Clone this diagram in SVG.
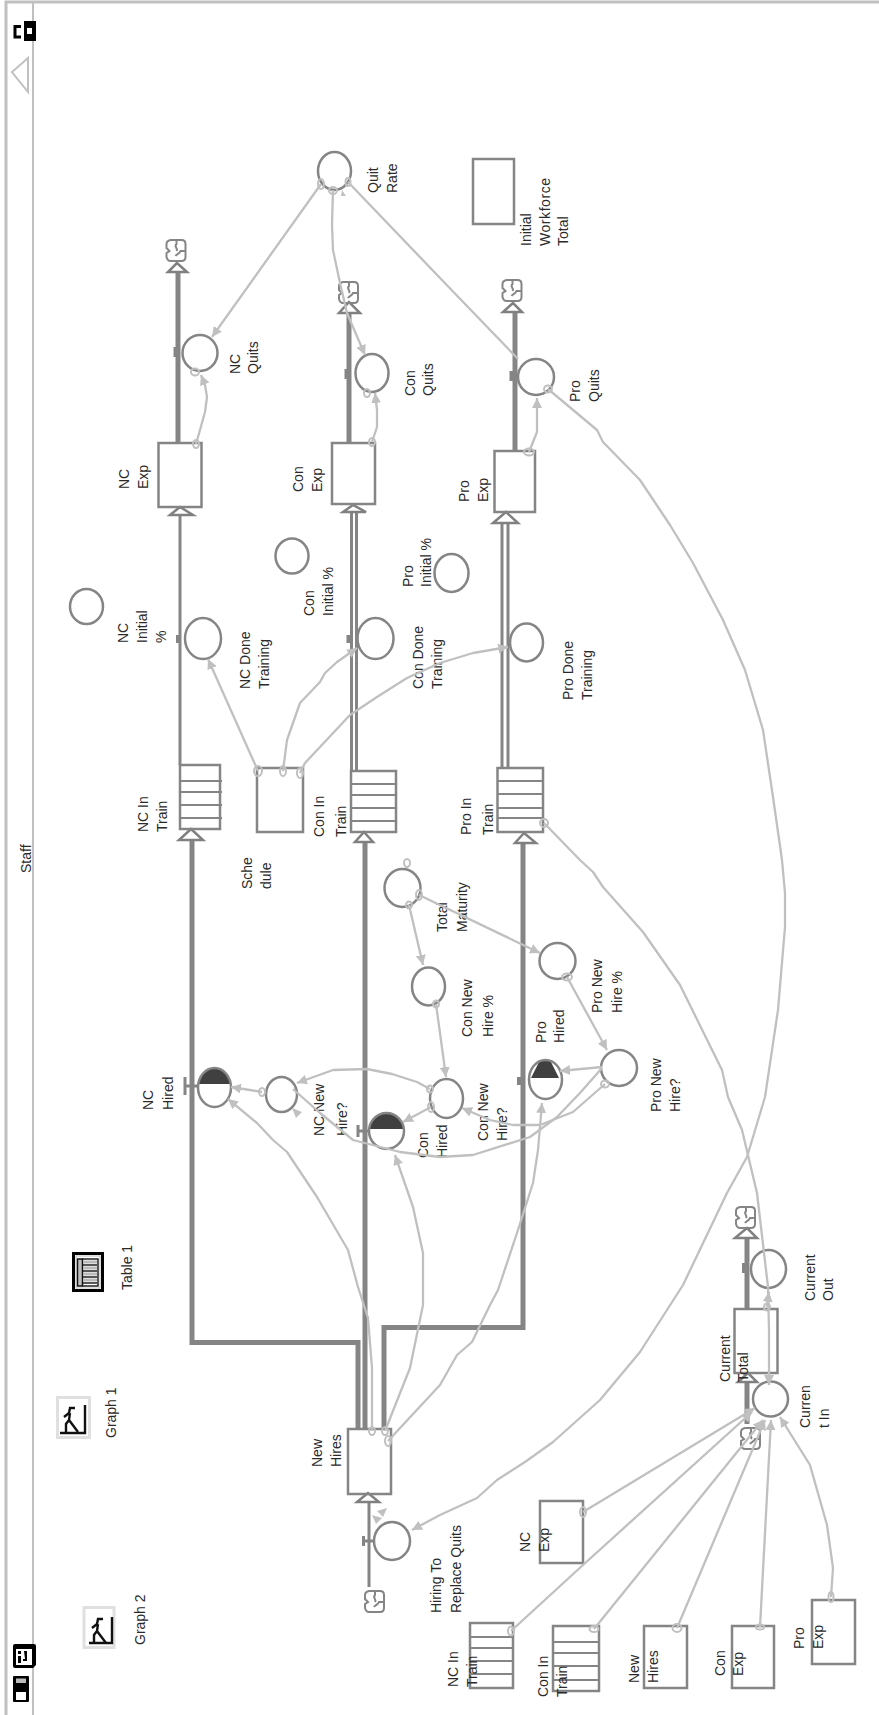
<svg xmlns="http://www.w3.org/2000/svg" xmlns:xlink="http://www.w3.org/1999/xlink" width="879" height="1715" viewBox="0 0 879 1715">
<style>
.b{fill:none;stroke:#858585;stroke-width:2.5}
.f{fill:#404040;stroke:none}
.t{fill:#858585;stroke:none}
.i{fill:none;stroke:#858585;stroke-width:2}
.p{fill:none;stroke:#858585;stroke-width:5}
.p3{fill:none;stroke:#858585;stroke-width:3}
.h{fill:#fff;stroke:#808080;stroke-width:2.5;stroke-linejoin:miter}
.c{fill:none;stroke:#c0c0c0;stroke-width:2.3;stroke-linejoin:round;marker-end:url(#a)}
.r{fill:none;stroke:#c0c0c0;stroke-width:2}
.s{fill:#c0c0c0;stroke:none}
.fr{fill:none;stroke:#c0c0c0}
.k{fill:none;stroke:#000;stroke-width:3}
.kf{fill:#000;stroke:none}
.g{fill:none;stroke:#e0e0e0;stroke-width:3}
.gp{fill:none;stroke:#111;stroke-width:2.4}
text{font-family:"Liberation Sans",Arial,sans-serif;font-size:14px;fill:#2a2a2a}
</style>
<defs>
<marker id="a" markerUnits="userSpaceOnUse" markerWidth="11" markerHeight="10" refX="10" refY="5" orient="auto"><path d="M0,0 L10,5 L0,10 Z" fill="#c0c0c0"/></marker>
<path id="cl" d="M5,1 H16 Q20,1 20,5 V18 Q20,22 16,22 H5 Q2,22 1,18 V14 L4,12 L1,9 V5 Q1,2 5,1 Z M11,1 V5 C8,8 13,9 11,12 M20,12 H15 C14,15 11,15 10,17" fill="none" stroke="#858585" stroke-width="2"/>
</defs>

<g id="frame">
<path class="fr" stroke-width="3" d="M6,1715 V2 H879"/>
<path class="fr" stroke-width="2" d="M33,2 V1715"/>
<path class="fr" stroke-width="2" d="M28,58 L12,72 L28,92 Z"/>
<path class="k" d="M21,26.500 H15 V37 H21"/>
<path class="kf" fill-rule="evenodd" d="M24,21 H36 V41 H24 Z M27,28 V34 H32 V28 Z"/>
<path class="kf" fill-rule="evenodd" d="M15,1644 H34 Q36,1644 36,1646 V1665 L33,1668 H15 Q13,1668 13,1666 V1646 Q13,1644 15,1644 Z M16,1649 V1665 H32 V1649 Z"/>
<path class="kf" d="M18,1651 h3 v3 h-3 z M18,1656 h3 v7 h-3 z M24,1651 h3 v10 h-4 v-2 h2 z"/>
<rect class="kf" x="13" y="1676" width="16" height="26" rx="1"/>
<rect x="16" y="1678.500" width="10" height="4.500" fill="#bbb"/>
<rect x="16" y="1692" width="10" height="8" fill="#fff"/>
<text transform="translate(31,873) rotate(-90)">Staff</text>
</g>

<g id="table1">
<rect class="k" x="73.500" y="1253.500" width="29" height="37"/>
<rect x="76" y="1256" width="24" height="32" fill="#fff" stroke="#c0c0c0"/>
<rect x="77.500" y="1259" width="5" height="27" fill="#c0c0c0" stroke="#111" stroke-width="1.500"/>
<path d="M82,1259 H98 V1286 H82" fill="none" stroke="#222" stroke-width="1.500"/>
<path d="M83,1262 H97 M83,1268 H97 M83,1274 H97 M83,1280 H97" fill="none" stroke="#bbb" stroke-width="3"/>
<path d="M83,1265 H97 M83,1271 H97 M83,1277 H97 M83,1283 H97" fill="none" stroke="#222" stroke-width="1.500"/>
<text transform="translate(132,1290) rotate(-90)">Table 1</text>
</g>
<g id="graph1">
<rect class="g" x="57.500" y="1397.500" width="32" height="40"/>
<path class="gp" d="M85,1405 V1433 H60"/>
<path class="gp" d="M75,1408 H70 L69,1413 L64,1417 M70,1413 L69,1420 L66,1424 V1432 M69,1420 L78,1432"/>
<text transform="translate(116,1438) rotate(-90)">Graph 1</text>
</g>
<g id="graph2">
<rect class="g" x="84" y="1607.500" width="30" height="40"/>
<path class="gp" d="M112,1617 V1643 H89"/>
<path class="gp" d="M103,1619 H98 L97,1624 L92,1628 M98,1624 L97,1631 L94,1635 V1643 M97,1631 L106,1643"/>
<text transform="translate(145,1645) rotate(-90)">Graph 2</text>
</g>

<g id="flows">
<path class="p" d="M178,272 V443"/>
<path class="p" d="M349,313 V443"/>
<path class="p" d="M515,312 V451"/>
<path class="p3" d="M180,515 V765"/>
<path class="p3" d="M351.500,512 V771 M356.500,512 V771"/>
<path class="p3" d="M502,523 V768 M508,523 V768"/>
<path class="p" d="M192,840 V1342.500 H358 V1429"/>
<path class="p" d="M365,842 V1429"/>
<path class="p" d="M384,1429 V1327.500 H523 V843"/>
<path class="p3" d="M369,1502 V1587"/>
<path class="p" d="M747,1238 V1309"/>
<path class="p" d="M747,1382 V1424"/>
<path class="h" d="M177,263 L168,272 H187 Z"/>
<path class="h" d="M349,302 L339,313 H360 Z"/>
<path class="h" d="M513,303 L503,312 H522 Z"/>
<path class="h" d="M180,507 L170,515 H193 Z"/>
<path class="h" d="M353,505 L343,512 H366 Z"/>
<path class="h" d="M506,512 L493,523 H518 Z"/>
<path class="h" d="M191,829 L179,840 H203 Z"/>
<path class="h" d="M364,832 L355,842 H373 Z"/>
<path class="h" d="M524,833 L515,843 H536 Z"/>
<path class="h" d="M368,1493 L357,1502 H379 Z"/>
<path class="h" d="M747,1228 L735,1238 H757 Z"/>
<path class="h" d="M748,1373 L738,1382 H757 Z"/>
<use xlink:href="#cl" href="#cl" transform="translate(165.500,239)"/>
<use xlink:href="#cl" href="#cl" transform="translate(338,281)"/>
<use xlink:href="#cl" href="#cl" transform="translate(501.500,279)"/>
<use xlink:href="#cl" href="#cl" transform="translate(735,1206)"/>
<use xlink:href="#cl" href="#cl" transform="translate(740,1427)"/>
<use xlink:href="#cl" href="#cl" transform="translate(364,1590)"/>
</g>

<g id="QuitRate"><ellipse class="b" cx="334.500" cy="171" rx="16.500" ry="19"/><text transform="translate(378,193) rotate(-90)">Quit</text><text transform="translate(397,193) rotate(-90)">Rate</text></g>
<g id="NCQuits"><ellipse class="b" cx="200" cy="353" rx="17.500" ry="18"/><rect class="t" x="173.500" y="347" width="4" height="10"/><text transform="translate(240,374) rotate(-90)">NC</text><text transform="translate(258,374) rotate(-90)">Quits</text></g>
<g id="ConQuits"><ellipse class="b" cx="372" cy="373" rx="16.500" ry="19"/><rect class="t" x="344.500" y="369" width="4" height="10"/><text transform="translate(415,396) rotate(-90)">Con</text><text transform="translate(433,396) rotate(-90)">Quits</text></g>
<g id="ProQuits"><ellipse class="b" cx="536" cy="377" rx="18" ry="18"/><rect class="t" x="509.500" y="371" width="4" height="10"/><text transform="translate(580,402) rotate(-90)">Pro</text><text transform="translate(599,402) rotate(-90)">Quits</text></g>
<g id="InitialWorkforceTotal"><rect class="b" x="473" y="159" width="41" height="65"/><text transform="translate(531,246) rotate(-90)">Initial</text><text transform="translate(550,246) rotate(-90)" textLength="68">Workforce</text><text transform="translate(568,246) rotate(-90)">Total</text></g>

<g id="NCExp"><rect class="b" x="158.500" y="443" width="43" height="64"/><text transform="translate(129,489) rotate(-90)">NC</text><text transform="translate(148,489) rotate(-90)">Exp</text></g>
<g id="ConExp"><rect class="b" x="332" y="443" width="43" height="61"/><text transform="translate(303,492) rotate(-90)">Con</text><text transform="translate(322,492) rotate(-90)">Exp</text></g>
<g id="ProExp"><rect class="b" x="494.500" y="451" width="40.500" height="61"/><text transform="translate(469,502) rotate(-90)">Pro</text><text transform="translate(488,502) rotate(-90)">Exp</text></g>

<g id="NCInitial"><ellipse class="b" cx="86.500" cy="606.500" rx="16.500" ry="17.500"/><text transform="translate(128,643) rotate(-90)">NC</text><text transform="translate(147,643) rotate(-90)">Initial</text><text transform="translate(166,643) rotate(-90)">%</text></g>
<g id="ConInitial"><ellipse class="b" cx="292" cy="556" rx="16.500" ry="17.500"/><text transform="translate(314,616) rotate(-90)">Con</text><text transform="translate(333,616) rotate(-90)">Initial %</text></g>
<g id="ProInitial"><ellipse class="b" cx="451.500" cy="573" rx="17" ry="19"/><text transform="translate(413,587) rotate(-90)">Pro</text><text transform="translate(431,587) rotate(-90)">Initial %</text></g>

<g id="NCDone"><ellipse class="b" cx="203" cy="638.500" rx="18" ry="20.500"/><rect class="t" x="176" y="635" width="4" height="8"/><text transform="translate(250,689) rotate(-90)">NC Done</text><text transform="translate(269,689) rotate(-90)">Training</text></g>
<g id="ConDone"><ellipse class="b" cx="375.500" cy="638.500" rx="18" ry="20.500"/><rect class="t" x="346.500" y="635" width="4" height="8"/><text transform="translate(423,689) rotate(-90)">Con Done</text><text transform="translate(442,689) rotate(-90)">Training</text></g>
<g id="ProDone"><ellipse class="b" cx="526.500" cy="642.500" rx="16.500" ry="19"/><text transform="translate(573,700) rotate(-90)">Pro Done</text><text transform="translate(592,700) rotate(-90)">Training</text></g>

<g id="NCInTrain"><rect class="b" x="180" y="765" width="40" height="64"/><path class="i" d="M180,781 H222 M180,792 H222 M180,805 H222 M180,818 H222"/><text transform="translate(148,832) rotate(-90)">NC In</text><text transform="translate(167,832) rotate(-90)">Train</text></g>
<g id="Schedule"><rect class="b" x="257" y="768" width="46" height="64"/><text transform="translate(252,889) rotate(-90)">Sche</text><text transform="translate(271,889) rotate(-90)">dule</text></g>
<g id="ConInTrain"><rect class="b" x="351" y="771" width="45" height="61"/><path class="i" d="M351,784 H396 M351,795 H396 M351,808 H396 M351,821 H396"/><text transform="translate(324,837) rotate(-90)">Con In</text><text transform="translate(346,837) rotate(-90)">Train</text></g>
<g id="ProInTrain"><rect class="b" x="497.500" y="768" width="45.500" height="64"/><path class="i" d="M497,781 H543 M497,794 H543 M497,808 H543 M497,818 H543"/><text transform="translate(471,835) rotate(-90)">Pro In</text><text transform="translate(493,835) rotate(-90)">Train</text></g>

<g id="TotalMaturity"><ellipse class="b" cx="402.500" cy="888" rx="18" ry="19"/><text transform="translate(447,932) rotate(-90)">Total</text><text transform="translate(467,932) rotate(-90)">Maturity</text></g>
<g id="ConNewHirePct"><ellipse class="b" cx="428.500" cy="986.500" rx="16.500" ry="19"/><text transform="translate(472,1037) rotate(-90)">Con New</text><text transform="translate(493,1037) rotate(-90)">Hire %</text></g>
<g id="ProNewHirePct"><ellipse class="b" cx="557.500" cy="961" rx="18" ry="18"/><text transform="translate(602,1013) rotate(-90)">Pro New</text><text transform="translate(622,1013) rotate(-90)">Hire %</text></g>
<g id="ProNewHire"><ellipse class="b" cx="619" cy="1068" rx="18" ry="18"/><text transform="translate(661,1112) rotate(-90)">Pro New</text><text transform="translate(680,1112) rotate(-90)">Hire?</text></g>
<g id="ConNewHire"><ellipse class="b" cx="446.500" cy="1098.500" rx="16.500" ry="19.500"/><text transform="translate(488,1141) rotate(-90)">Con New</text><text transform="translate(507,1141) rotate(-90)">Hire?</text></g>
<g id="NCNewHire"><ellipse class="b" cx="281.500" cy="1094.500" rx="15.500" ry="17.500"/><text transform="translate(324,1136) rotate(-90)">NC New</text><text transform="translate(347,1136) rotate(-90)">Hire?</text></g>

<g id="NCHired"><path class="f" d="M198.300,1084 A16.500,19.500 0 0 1 230.700,1084 Z"/><ellipse class="b" cx="214.500" cy="1087.500" rx="16.500" ry="19.500"/><path class="p3" d="M185,1086 H198 M185,1077 V1095"/><text transform="translate(153,1110) rotate(-90)">NC</text><text transform="translate(173,1110) rotate(-90)">Hired</text></g>
<g id="ConHired"><path class="f" d="M369.100,1129 A17.500,18 0 0 1 403.900,1129 Z"/><ellipse class="b" cx="386.500" cy="1131" rx="17.500" ry="18"/><path class="p3" d="M358,1131 H369 M358,1125 V1137"/><text transform="translate(428,1158) rotate(-90)">Con</text><text transform="translate(447,1158) rotate(-90)">Hired</text></g>
<g id="ProHired"><path class="f" d="M531,1078 L540,1060 H550 L559,1078 Z"/><ellipse class="b" cx="545.500" cy="1079.500" rx="16.500" ry="19.500"/><rect class="t" x="517" y="1077" width="4" height="8"/><text transform="translate(546,1043) rotate(-90)">Pro</text><text transform="translate(564,1043) rotate(-90)">Hired</text></g>

<g id="CurrentOut"><ellipse class="b" cx="768.500" cy="1269" rx="17.500" ry="19"/><rect class="t" x="742" y="1263" width="4" height="10"/><text transform="translate(815,1301) rotate(-90)">Current</text><text transform="translate(833,1301) rotate(-90)">Out</text></g>
<g id="CurrentTotal"><rect class="b" x="734.500" y="1309" width="43" height="64"/><text transform="translate(730,1382) rotate(-90)">Current</text><text transform="translate(748,1382) rotate(-90)">Total</text></g>
<g id="CurrentIn"><ellipse class="b" cx="770.500" cy="1399" rx="17.500" ry="17.500"/><rect class="t" x="745" y="1393" width="4" height="10"/><text transform="translate(810,1428) rotate(-90)">Curren</text><text transform="translate(829,1428) rotate(-90)">t In</text></g>

<g id="NewHires"><rect class="b" x="348" y="1429" width="43" height="65"/><text transform="translate(322,1467) rotate(-90)">New</text><text transform="translate(341,1467) rotate(-90)">Hires</text></g>
<g id="HiringToReplaceQuits"><ellipse class="b" cx="392" cy="1541" rx="18" ry="19"/><path class="p3" d="M363,1541 H374 M363.500,1536 V1546"/><text transform="translate(441,1613) rotate(-90)">Hiring To</text><text transform="translate(461,1613) rotate(-90)">Replace Quits</text></g>

<g id="AliasNCExp"><rect class="b" x="540" y="1501" width="43" height="62"/><text transform="translate(530,1552) rotate(-90)">NC</text><text transform="translate(549,1552) rotate(-90)">Exp</text></g>
<g id="AliasNCInTrain"><rect class="b" x="470" y="1623" width="43" height="65"/><path class="i" d="M470,1637 H513 M470,1648 H513 M470,1661 H513 M470,1674 H513"/><text transform="translate(458,1687) rotate(-90)">NC In</text><text transform="translate(477,1687) rotate(-90)">Train</text></g>
<g id="AliasConInTrain"><rect class="b" x="553" y="1626" width="46" height="65"/><path class="i" d="M553,1642 H599 M553,1653 H599 M553,1666 H599 M553,1680 H599"/><text transform="translate(548,1697) rotate(-90)">Con In</text><text transform="translate(567,1697) rotate(-90)">Train</text></g>
<g id="AliasNewHires"><rect class="b" x="644" y="1626" width="43" height="62"/><text transform="translate(639,1683) rotate(-90)">New</text><text transform="translate(658,1683) rotate(-90)">Hires</text></g>
<g id="AliasConExp"><rect class="b" x="732" y="1626" width="42" height="62"/><text transform="translate(725,1676) rotate(-90)">Con</text><text transform="translate(743,1676) rotate(-90)">Exp</text></g>
<g id="AliasProExp"><rect class="b" x="812" y="1600" width="43" height="64"/><text transform="translate(804,1649) rotate(-90)">Pro</text><text transform="translate(823,1649) rotate(-90)">Exp</text></g>

<g id="connectors">
<path class="c" d="M321,184 L212,337"/>
<path class="c" d="M333,190 L332,225 L333,250 L340,283 L347,313 L365,355"/>
<path class="c" style="marker-end:none" d="M348,182 L440,278 L518,359"/>
<path class="c" d="M196,444 L200,430 L205,412 L207,397 L205,385 L201,375"/>
<path class="c" d="M372,442 L377,427 L377,410 L375,393"/>
<path class="c" d="M529,452 L537,432 L537,398"/>
<path class="c" d="M548,389 L597,430 L603,442 L640,480 L670,525 L693,563 L723,620 L745,670 L763,730 L773,797 L782,860 L785,893 L785,927 L778,1010 L765,1097 L747,1157 L727,1193 L683,1285 L640,1352 L600,1400 L553,1442 L525,1462 L497,1480 L477,1498 L440,1515 L412,1530"/>
<path class="c" d="M544,823 L580,860 L593,872 L603,887 L643,932 L680,985 L722,1070 L728,1097 L742,1130 L757,1193 L768,1287 L769,1330 L769,1385"/>
<path class="c" d="M767,1307 L769,1292"/>
<path class="c" d="M258,771 L208,659"/>
<path class="c" d="M283,771 L287,740 L300,703 L320,682 L325,673 L337,662 L357,648"/>
<path class="c" d="M300,773 L305,763 L350,715 L377,697 L407,678 L440,663 L473,653 L508,647"/>
<path class="c" d="M409,905 L423,965"/>
<path class="c" d="M419,895 L540,953"/>
<path class="c" d="M436,1004 L440,1033 L446,1077"/>
<path class="c" d="M567,977 L607,1050"/>
<path class="c" d="M602,1067 L560,1071"/>
<path class="c" d="M431,1107 L403,1122"/>
<path class="c" d="M262,1092 L231,1087"/>
<path class="c" d="M430,1089 L417,1082 L392,1074 L367,1069 L333,1070 L297,1083"/>
<path class="c" d="M605,1084 L573,1112 L540,1125 L513,1125 L490,1120 L462,1108"/>
<path class="c" style="marker-end:none" d="M602,1068 L580,1093 L557,1117 L530,1137 L473,1155 L440,1157 L400,1152 L353,1140 L320,1113 L293,1089"/>
<path class="c" d="M372,1431 L372,1368 L368,1318 L358,1287 L348,1250 L317,1197 L287,1152 L273,1140 L257,1123 L228,1099"/>
<path class="c" d="M385,1431 L410,1368 L423,1305 L423,1253 L413,1207 L395,1155"/>
<path class="c" d="M388,1441 L440,1385 L457,1355 L472,1342 L490,1305 L498,1290 L517,1233 L533,1183 L538,1150 L542,1103"/>
<path class="c" d="M583,1512 L755,1408"/>
<path class="c" d="M511,1631 L583,1565 L752,1412"/>
<path class="c" d="M594,1629 L763,1420"/>
<path class="c" d="M677,1628 L765,1420"/>
<path class="c" d="M760,1627 L771,1420"/>
<path class="c" d="M831,1597 L833,1568 L827,1525 L810,1465 L780,1417"/>
<path class="s" d="M292,1108 L302,1112 L296,1118 Z"/>
<path class="s" d="M372,1515 L382,1518 L376,1524 Z"/>
<path class="s" d="M377,1511 L387,1508 L383,1517 Z"/>
<path class="s" d="M342,190 L346,196 L341,196 Z"/>
<ellipse class="r" cx="321" cy="184" rx="3" ry="5"/>
<ellipse class="r" cx="333" cy="190.500" rx="4" ry="3.500"/>
<ellipse class="r" cx="348" cy="182" rx="2.500" ry="4"/>
<ellipse class="r" cx="195" cy="372" rx="4" ry="3.500"/>
<ellipse class="r" cx="367" cy="393" rx="3" ry="4"/>
<ellipse class="r" cx="548" cy="389" rx="4" ry="3.500"/>
<ellipse class="r" cx="196" cy="444" rx="3" ry="4"/>
<ellipse class="r" cx="372" cy="442" rx="3" ry="4"/>
<ellipse class="r" cx="529" cy="452" rx="5" ry="3.500"/>
<ellipse class="r" cx="258" cy="771" rx="4" ry="5"/>
<ellipse class="r" cx="283" cy="771" rx="3" ry="5"/>
<ellipse class="r" cx="300" cy="773" rx="3" ry="5"/>
<ellipse class="r" cx="544" cy="823" rx="4" ry="4"/>
<ellipse class="r" cx="407" cy="863" rx="3" ry="4"/>
<ellipse class="r" cx="409" cy="905" rx="3" ry="3.500"/>
<ellipse class="r" cx="419" cy="895" rx="3" ry="5"/>
<ellipse class="r" cx="436" cy="1004" rx="3" ry="3.500"/>
<ellipse class="r" cx="567" cy="977" rx="5" ry="3.500"/>
<ellipse class="r" cx="605" cy="1084" rx="4" ry="3.500"/>
<ellipse class="r" cx="431" cy="1107" rx="3" ry="5"/>
<ellipse class="r" cx="430" cy="1089" rx="3" ry="3.500"/>
<ellipse class="r" cx="262" cy="1092" rx="3" ry="4"/>
<ellipse class="r" cx="372" cy="1431" rx="3" ry="4"/>
<ellipse class="r" cx="385" cy="1431" rx="3" ry="4"/>
<ellipse class="r" cx="388" cy="1441" rx="3" ry="5"/>
<ellipse class="r" cx="767" cy="1307" rx="3" ry="3.500"/>
<ellipse class="r" cx="583" cy="1512" rx="3" ry="5"/>
<ellipse class="r" cx="511" cy="1631" rx="3" ry="4.500"/>
<ellipse class="r" cx="594" cy="1629" rx="4.500" ry="3"/>
<ellipse class="r" cx="677" cy="1628" rx="4.500" ry="4"/>
<ellipse class="r" cx="760" cy="1627" rx="4" ry="2.500"/>
<ellipse class="r" cx="831" cy="1597" rx="2.500" ry="5"/>
</g>
</svg>
